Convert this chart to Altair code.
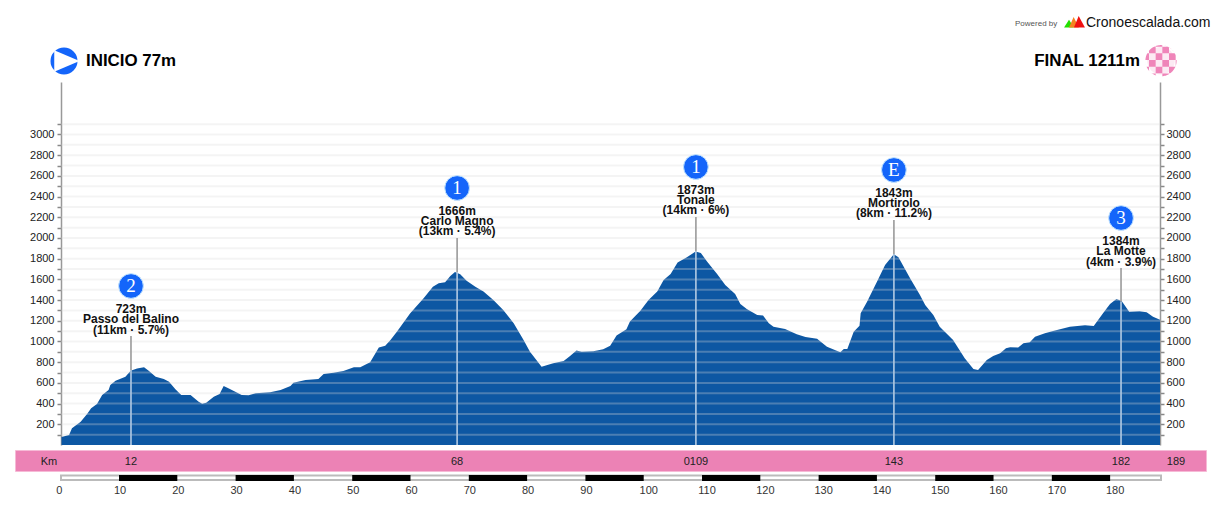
import altair as alt
import pandas as pd

# ---- profile
km = [0,1.3,1.8,3.3,4.4,5.1,6.1,7,8.1,8.4,9.3,11,11.9,13,14.2,15,16.2,17.6,18.5,19.6,20.6,22.2,23.6,24.2,24.9,26.2,27.2,27.9,28.8,29.9,31,32.2,33.4,35.9,37.7,39.4,39.9,42,44.2,45.1,46.8,48.5,50.3,51.4,53.1,54.6,55.7,56.6,57.7,60,62.3,63.9,64.9,66,66.9,67.7,68.6,69.7,71.2,72.6,74.3,76,77.8,79.5,80.6,82.6,84.6,86.4,87.5,88.6,89.5,91.5,93.2,94.4,95.5,97.2,97.8,99.6,101,102.5,103.6,104.8,106,107.6,109.1,110,111.1,112.8,114.2,115.9,116.8,117.9,119.7,120.7,121.7,122.5,124.5,126.5,128,130,131.7,134,134.6,135.2,136.3,137.3,137.5,138.6,140.3,141.7,143.2,144,146,147.7,148.6,150,151.1,153.4,155.4,156.9,157.7,159.2,160.3,161.5,162.5,163.2,164.6,165.5,166.6,167.5,169.2,170.6,173.5,176.1,177.6,179.2,180.4,181.5,182.4,183.7,185.5,186.7,187.8,189]
elev = [77,97,161,225,299,354,396,483,531,579,621,660,718,740,750,718,660,637,612,538,483,483,418,399,409,467,493,570,547,515,483,480,499,509,531,570,602,628,637,686,699,715,750,752,799,941,960,1015,1095,1272,1417,1530,1562,1572,1633,1672,1649,1588,1530,1482,1401,1305,1176,1015,902,757,789,812,860,912,902,905,925,960,1057,1118,1192,1298,1401,1482,1594,1652,1762,1813,1870,1855,1771,1652,1546,1459,1362,1314,1256,1250,1176,1143,1121,1069,1044,1027,950,895,928,928,1095,1153,1272,1385,1578,1739,1843,1813,1610,1449,1353,1256,1143,1015,838,734,725,821,860,886,934,944,941,982,992,1047,1079,1102,1143,1156,1150,1272,1362,1411,1391,1288,1292,1282,1240,1211]

# ---- climbs
climb_km = [12, 68, 109, 143, 182]
climb_elev = [723, 1666, 1873, 1843, 1384]
climb_top = [1053, 2000, 2203, 2174, 1710]
badge_y = [1536, 2483, 2686, 2657, 2193]
climb_cat = ["2", "1", "1", "E", "3"]
climb_alt = ["723m", "1666m", "1873m", "1843m", "1384m"]
climb_name = ["Passo del Balino", "Carlo Magno", "Tonale", "Mortirolo", "La Motte"]
climb_info = ["(11km · 5.7%)", "(13km · 5.4%)", "(14km · 6%)", "(8km · 11.2%)", "(4km · 3.9%)"]
band_labels = ["12", "68", "0109", "143", "182"]

# ---- axes
y_ticks = list(range(100, 3200, 100))
bar_start = [10, 30, 50, 70, 90, 110, 130, 150, 170]
bar_end = [20, 40, 60, 80, 100, 120, 140, 160, 180]
scale_ticks = list(range(0, 190, 10))

FONT = "Liberation Sans"
W, H = 1099, 363
BLUE = "#0D57A3"
BADGE = "#1465FA"
PINK = "#EC82B5"


def px(v):
    return v - 61


def py(v):
    return v - 82


one = pd.DataFrame({"a": [0]})
profile = pd.DataFrame({"km": km, "elev": elev})
climbs = pd.DataFrame({"km": climb_km, "elev": climb_elev, "top": climb_top, "badge": badge_y,
                       "cat": climb_cat, "alt": climb_alt, "name": climb_name, "info": climb_info,
                       "band": band_labels})
grid = pd.DataFrame({"v": y_ticks})
bars = pd.DataFrame({"s": bar_start, "e": bar_end})
labels = pd.DataFrame({"k": scale_ticks})

yscale = alt.Scale(domain=[0, 3507], range=[H, 0], nice=False, zero=False)
xscale = alt.Scale(domain=[0, 189], range=[0.5, W])
climbscale = alt.Scale(domain=[0, 189], range=[0.1, 1100.8])
barscale = alt.Scale(domain=[0, 189], range=[-0.3, 1101.6])
X = alt.X("km:Q", scale=xscale, axis=None)
XC = alt.X("km:Q", scale=climbscale, axis=None)


def yaxis(orient, pad):
    return alt.Axis(orient=orient, values=y_ticks, grid=False, title=None, tickSize=4, tickWidth=1.5,
                    tickColor="#888888", domainColor="#999999", domainWidth=1.5, labelFont=FONT,
                    labelFontSize=11, labelColor="#222222", labelPadding=pad, labelOverlap=False,
                    labelExpr="datum.value % 200 == 0 ? datum.value : ''")


area = alt.Chart(profile).mark_area(color=BLUE, opacity=1, interpolate="linear").encode(
    x=X, y=alt.Y("elev:Q", scale=yscale, axis=yaxis("left", 3)))
right = alt.Chart(profile).mark_line(opacity=0).encode(
    x=X, y=alt.Y("elev:Q", scale=yscale, axis=yaxis("right", 2)))
gridl = alt.Chart(grid).mark_rule(color="#D9D9D9", opacity=0.3, size=2).encode(
    y=alt.Y("v:Q", scale=yscale, axis=None), x=alt.value(0.5), x2=alt.value(W))

stem_top = alt.Chart(climbs).mark_rule(color="#A0A0A0", size=1.7).encode(
    x=XC, y=alt.Y("elev:Q", scale=yscale, axis=None), y2="top:Q")
stem_in = alt.Chart(climbs).mark_rule(color="#A9C4E0", size=1.7).encode(
    x=XC, y=alt.Y("elev:Q", scale=yscale, axis=None), y2=alt.datum(0))


def climb_text(field, dy):
    return alt.Chart(climbs).mark_text(font=FONT, fontSize=12, fontWeight="bold", color="#111111",
                                       dy=dy, baseline="middle").encode(
        x=XC, y=alt.Y("top:Q", scale=yscale, axis=None), text=f"{field}:N")


badges = alt.Chart(climbs).mark_point(filled=True, fill=BADGE, stroke="#BFE3FF", strokeWidth=1,
                                      opacity=1, size=610, shape="circle").encode(
    x=XC, y=alt.Y("badge:Q", scale=yscale, axis=None))
badge_text = alt.Chart(climbs).mark_text(font="Liberation Serif", fontSize=19, color="white",
                                         baseline="middle").encode(
    x=XC, y=alt.Y("badge:Q", scale=yscale, axis=None), text="cat:N")


def head(txt, x, y, size, align="left", weight="bold", color="#000000", font=FONT):
    return alt.Chart(one).mark_text(font=font, fontSize=size, fontWeight=weight, color=color,
                                    align=align, baseline="middle").encode(
        x=alt.value(px(x)), y=alt.value(py(y)), text=alt.value(txt))


def symbol(path, x, y, size, color):
    return alt.Chart(one).mark_point(shape=path, size=size, filled=True, fill=color, stroke=None,
                                     opacity=1).encode(x=alt.value(px(x)), y=alt.value(py(y)))


start_disc = symbol("circle", 64, 61, 730, BADGE)
start_tri = symbol("M-0.63,-0.70L1.0,0L-0.63,0.70Z", 64, 61, 961, "white")

# checker flag: pink cells of the finish badge, trimmed to its circle
R = 15.6
cell = 6.67
cells = []
for ix in range(-3, 4):
    for iy in range(-3, 4):
        if (ix + iy) % 2 == 0:
            x0, y0 = (ix - 0.5) * cell - 2, (iy - 0.5) * cell - 4
            pts = []
            n = 6
            side = [(x0 + cell * i / n, y0) for i in range(n)] + \
                   [(x0 + cell, y0 + cell * i / n) for i in range(n)] + \
                   [(x0 + cell - cell * i / n, y0 + cell) for i in range(n)] + \
                   [(x0, y0 + cell - cell * i / n) for i in range(n)]
            for (a, b) in side:
                r = (a * a + b * b) ** 0.5
                f = min(1, R / r) if r else 1
                pts.append((a * f / R, b * f / R))
            cells.append("M" + "L".join(f"{a:.3f},{b:.3f}" for a, b in pts) + "Z")
finish_disc = symbol("circle", 1161, 60.7, 760, "#FCEAF3")
finish = symbol("".join(cells), 1161, 60.7, (2 * R) ** 2, "#EF85B9")

logo_g = symbol("M-0.95,0.5L-0.5,-0.2L-0.05,0.5Z", 1074.5, 22, 484, "#22E000")
logo_o = symbol("M-0.5,0.5L-0.08,-0.45L0.4,0.5Z", 1074.5, 22, 484, "#F58220")
logo_r = symbol("M-0.05,0.5L0.38,-0.55L0.95,0.5Z", 1074.5, 22, 484, "#F01010")

band = alt.Chart(one).mark_rect(fill=PINK, stroke="#F6BAD6", strokeWidth=1).encode(
    x=alt.value(px(15.5)), x2=alt.value(px(1206.5)), y=alt.value(py(450.5)), y2=alt.value(py(471.5)))
band_text = alt.Chart(climbs).mark_text(font=FONT, fontSize=11, color="#222222", baseline="middle").encode(
    x=XC, y=alt.value(py(461.5)), text="band:N")
band_km = head("Km", 49, 461.5, 11, "center", "normal", "#222222")
band_end = head("189", 1176, 461.5, 11, "center", "normal", "#222222")

bar_box = alt.Chart(one).mark_rect(fill="white", stroke="#BBBBBB", strokeWidth=2).encode(
    x=alt.value(px(61)), x2=alt.value(px(1161)), y=alt.value(py(475.5)), y2=alt.value(py(480)))
bar_seg = alt.Chart(bars).mark_bar(color="black").encode(
    x=alt.X("s:Q", scale=barscale, axis=None), x2="e:Q", y=alt.value(py(475)), y2=alt.value(py(481)))


def scale_text(lo, hi, dx):
    return alt.Chart(labels[(labels.k >= lo) & (labels.k <= hi)]).mark_text(
        font=FONT, fontSize=11, color="#333333", baseline="middle", dx=dx).encode(
        x=alt.X("k:Q", scale=barscale, axis=None), y=alt.value(py(490.5)), text="k:Q")


chart = alt.layer(
    area, right, gridl, stem_top, stem_in,
    climb_text("alt", -27), climb_text("name", -17), climb_text("info", -6.5),
    badges, badge_text,
    head("INICIO 77m", 86, 60.5, 16.9),
    head("FINAL 1211m", 1140, 60.5, 16.9, "right"),
    start_disc, start_tri, finish_disc, finish,
    head("Powered by", 1015, 23.5, 8, "left", "normal", "#555555"),
    logo_g, logo_o, logo_r,
    head("Cronoescalada.com", 1086, 23, 14, "left", "normal", "#111111"),
    band, band_text, band_km, band_end,
    bar_box, bar_seg,
    scale_text(0, 0, -1.5), scale_text(10, 90, 1), scale_text(100, 180, 5),
).resolve_scale(x="independent", y="shared").resolve_axis(y="independent").properties(
    width=W, height=H, background="white",
    padding={"left": 53, "top": 74, "right": 54, "bottom": 59},
    autosize=alt.AutoSizeParams(type="none", contains="content"),
).configure_view(stroke=None)

chart.save("out.html", embed_options={"renderer": "svg", "actions": False})
